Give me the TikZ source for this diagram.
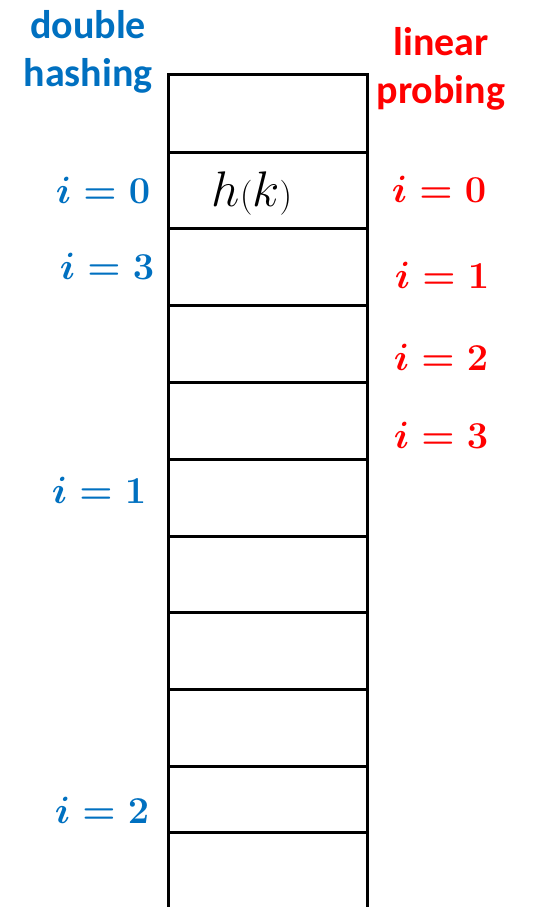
\RequirePackage{fix-cm}
\documentclass[tikz,border=0pt]{standalone}
\usepackage{fontspec}
\newfontfamily\labelfont{Carlito}
\definecolor{dhblue}{RGB}{0,112,192}
\definecolor{lpred}{RGB}{255,0,0}
\tikzset{
  cell/.style={draw=black, line width=3pt, rectangle, minimum width=199pt, inner sep=0pt, outer sep=0pt},
  head/.style={font=\labelfont\bfseries\fontsize{40}{48}\selectfont, align=center, anchor=base, inner sep=0pt},
  idx/.style={font=\fontsize{38}{40}\selectfont\boldmath, anchor=base, inner sep=0pt},
  dh/.style={idx, text=dhblue},
  lp/.style={idx, text=lpred},
}
\begin{document}
\begin{tikzpicture}[x=1pt,y=-1pt]
\useasboundingbox (0,0) rectangle (543,907);
\clip (0,0) rectangle (543,907);
% table cells (top, bottom)
\foreach \t/\b/\n in {74/152/0,152/228/1,228/305/2,305/382/3,382/459/4,459/536/5,536/612/6,612/689/7,689/766/8,766/832/9,832/930/10}{
  \node[cell, minimum height={(\b-\t)*1pt}] (c\n) at (267.5,{(\t+\b)/2}) {};
}
\node[anchor=base, inner sep=0pt, font=\fontsize{50}{54}\selectfont] (hk) at (252,206) {$h{\scriptstyle(}k{\scriptstyle)}$};
% headers
\node[head, text=dhblue] (dhhead) at (88,86) {double\\hashing};
\node[head, text=lpred] (lphead) at (441,103) {linear\\probing};
% double hashing probes
\node[dh] (d0) at (103,203) {$i=0$};
\node[dh] (d3) at (107,279) {$i=3$};
\node[dh] (d1) at (99,503) {$i=1$};
\node[dh] (d2) at (102,823) {$i=2$};
% linear probing probes
\node[lp] (l0) at (439,202) {$i=0$};
\node[lp] (l1) at (442,288) {$i=1$};
\node[lp] (l2) at (441,370) {$i=2$};
\node[lp] (l3) at (441,448) {$i=3$};
\end{tikzpicture}
\end{document}
